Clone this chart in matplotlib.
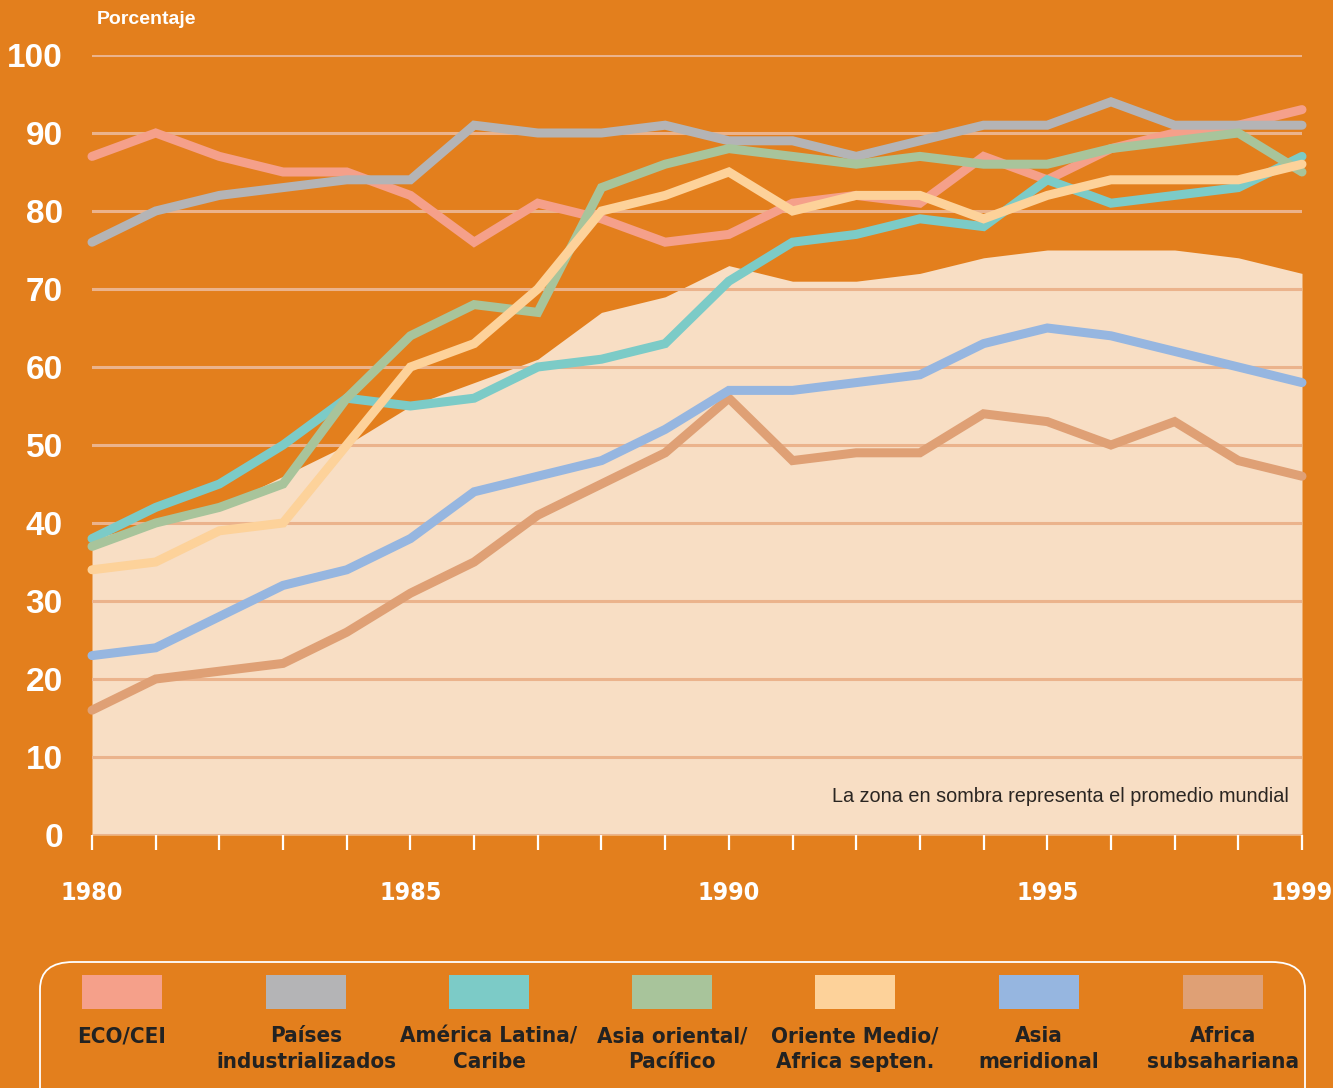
import matplotlib
matplotlib.use("Agg")
import matplotlib.pyplot as plt
from matplotlib.patches import FancyBboxPatch, Rectangle

years = list(range(1980, 2000))

eco_cei = [87, 90, 87, 85, 85, 82, 76, 81, 79, 76, 77, 81, 82, 81, 87, 84, 88, 90, 91, 93]
industrializados = [76, 80, 82, 83, 84, 84, 91, 90, 90, 91, 89, 89, 87, 89, 91, 91, 94, 91, 91, 91]
america_latina = [38, 42, 45, 50, 56, 55, 56, 60, 61, 63, 71, 76, 77, 79, 78, 84, 81, 82, 83, 87]
asia_oriental = [37, 40, 42, 45, 56, 64, 68, 67, 83, 86, 88, 87, 86, 87, 86, 86, 88, 89, 90, 85]
oriente_medio = [34, 35, 39, 40, 50, 60, 63, 70, 80, 82, 85, 80, 82, 82, 79, 82, 84, 84, 84, 86]
asia_meridional = [23, 24, 28, 32, 34, 38, 44, 46, 48, 52, 57, 57, 58, 59, 63, 65, 64, 62, 60, 58]
africa_sub = [16, 20, 21, 22, 26, 31, 35, 41, 45, 49, 56, 48, 49, 49, 54, 53, 50, 53, 48, 46]
promedio_mundial = [38, 40, 42, 46, 50, 55, 58, 61, 67, 69, 73, 71, 71, 72, 74, 75, 75, 75, 74, 72]

labels = ["ECO/CEI", "Países\nindustrializados", "América Latina/\nCaribe",
          "Asia oriental/\nPacífico", "Oriente Medio/\nAfrica septen.",
          "Asia\nmeridional", "Africa\nsubsahariana"]
colors = ["#F5A08A", "#B4B4B6", "#7CCBC7", "#A8C49B", "#FDD29A", "#96B6E0", "#DFA075"]
series = [eco_cei, industrializados, america_latina, asia_oriental,
          oriente_medio, asia_meridional, africa_sub]

yticks = list(range(0, 101, 10))
xlabel_years = [1980, 1985, 1990, 1995, 1999]

BG = "#E37F1D"
FILL = "#F8DEC4"
GRID = "#EBB38C"

W, H = 1333, 1088
fig = plt.figure(figsize=(W / 100, H / 100), dpi=100, facecolor=BG)
ax = fig.add_axes([92 / W, (H - 835) / H, (1302 - 92) / W, (835 - 55) / H])
ax.set_facecolor(BG)
ax.set_xlim(1980, 1999)
ax.set_ylim(0, 100)
for s in ax.spines.values():
    s.set_visible(False)

# world average shaded zone
ax.fill_between(years, 0, promedio_mundial, color=FILL, lw=0, zorder=1)

# grid
for v in yticks:
    ax.axhline(v, color=GRID, lw=2.2, zorder=2)

# series (Africa before Asia meridional, as in the original drawing order)
order = [0, 1, 2, 3, 4, 6, 5]
for i in order:
    ax.plot(years, series[i], color=colors[i], lw=6.5, solid_capstyle="round",
            solid_joinstyle="miter", zorder=3, clip_on=False)

# y axis
ax.set_yticks(yticks)
ax.set_yticklabels([str(v) for v in yticks], fontsize=24, fontweight="bold",
                   color="white", family="Liberation Sans")
ax.tick_params(axis="y", length=0, pad=21)

# x axis
ax.set_xticks(xlabel_years)
ax.set_xticks(years, minor=True)
ax.set_xticklabels([str(v) for v in xlabel_years], fontsize=18, fontweight="bold",
                   color="white", family="DejaVu Sans", fontstretch="condensed")
ax.tick_params(axis="x", which="both", direction="out", length=11, width=1.6,
               color="white", pad=22)

fig.text(97 / W, 1 - 20 / H, "Porcentaje", fontsize=14, fontweight="bold",
         color="white", family="Liberation Sans", ha="left", va="center")
ax.text(1998.8, 5.0, "La zona en sombra representa el promedio mundial",
        fontsize=14.3, color="#2B2622", family="Liberation Sans",
        ha="right", va="center", zorder=4)

# legend box
box = FancyBboxPatch((40 / W, -30 / H), (1305 - 40) / W, (H - 962 + 30) / H,
                     boxstyle="round,pad=0,rounding_size=0.025",
                     transform=fig.transFigure, fc="none", ec="white", lw=1.3)
fig.patches.append(box)

centers = [122, 306, 489, 672, 855, 1039, 1223]
for c, lab, col in zip(centers, labels, colors):
    fig.patches.append(Rectangle(((c - 40) / W, 1 - 1009 / H), 80 / W, 34 / H,
                                 transform=fig.transFigure, fc=col, ec="none"))
    fig.text(c / W, 1 - 1026 / H, lab, fontsize=16, fontweight="bold",
             color="#222222", family="DejaVu Sans", fontstretch="condensed",
             ha="center", va="top", linespacing=1.35)

fig.savefig("out.png", dpi=100, facecolor=BG)
